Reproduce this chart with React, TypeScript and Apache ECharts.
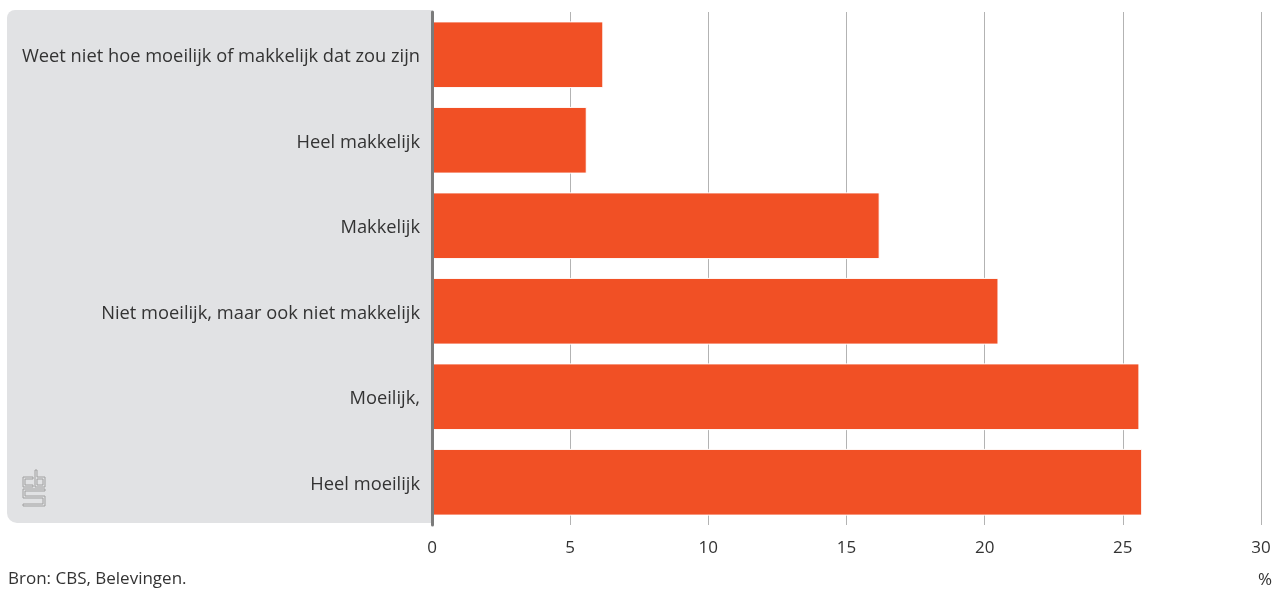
import React, { useEffect, useRef } from "react";
import * as echarts from "echarts";

const categories = [
  "Weet niet hoe moeilijk of makkelijk dat zou zijn",
  "Heel makkelijk",
  "Makkelijk",
  "Niet moeilijk, maar ook niet makkelijk",
  "Moeilijk,",
  "Heel moeilijk",
];
const values = [6.2, 5.6, 16.2, 20.5, 25.6, 25.7];
const xTicks = [0, 5, 10, 15, 20, 25, 30];
const sourceText = "Bron: CBS, Belevingen.";
const unitText = "%";

const logoPath =
  "M10,7 H0 V17 H10 V15 H2 V9 H10 Z " +
  "M12,0 H14 V7 H22 V17 H12 Z M14,9 H20 V15 H14 Z " +
  "M0,19 H22 V21 H2 V26 H22 V36 H0 V34 H20 V28 H0 Z";

let registered = false;

export default function App() {
  const ref = useRef<HTMLDivElement>(null);
  useEffect(() => {
    if (!registered) {
      echarts.graphic.registerShape("logo", echarts.graphic.extendPath(logoPath, {}));
      registered = true;
    }
    const chart = echarts.init(ref.current!, null, { renderer: "svg" });
    const font = "'Open Sans', 'Noto Sans', sans-serif";
    chart.setOption({
      animation: false,
      textStyle: { fontFamily: font },
      grid: { left: 432, right: 21, top: 12, bottom: 64, containLabel: false },
      xAxis: {
        type: "value",
        min: xTicks[0],
        max: xTicks[xTicks.length - 1],
        interval: 5,
        axisLine: { show: false },
        axisTick: { show: false },
        axisLabel: { color: "#333", fontSize: 17, margin: 13, fontFamily: font },
        splitLine: { show: true, lineStyle: { color: "#b3b3b3", width: 1 } },
      },
      yAxis: {
        type: "category",
        data: categories,
        inverse: true,
        axisLine: { show: true, lineStyle: { color: "#7b7b7b", width: 3 } },
        axisTick: { show: false },
        axisLabel: { color: "#333", fontSize: 18.3, margin: 12, fontFamily: font },
        z: 5,
      },
      graphic: [
        {
          type: "rect",
          z: -10,
          silent: true,
          shape: { x: 7, y: 10, width: 425, height: 513, r: [8, 0, 0, 10] },
          style: { fill: "#e1e2e4" },
        },
        {
          type: "logo",
          x: 23,
          y: 470,
          scaleX: 1,
          scaleY: 1,
          z: 10,
          style: { fill: "none", stroke: "#a0a0a0", lineWidth: 1 },
        },
        {
          type: "text",
          left: 8,
          top: 569,
          style: { text: sourceText, fill: "#333", fontSize: 17, fontFamily: font },
        },
        {
          type: "text",
          right: 10,
          top: 570,
          style: { text: unitText, fill: "#333", fontSize: 17, fontFamily: font },
        },
      ],
      series: [
        {
          type: "bar",
          data: values,
          barCategoryGap: "22%",
          itemStyle: { color: "#f15025", borderColor: "#ffffff", borderWidth: 1 },
          z: 3,
        },
      ],
    });
    return () => chart.dispose();
  }, []);
  return (
    <div
      ref={ref}
      style={{ position: "fixed", left: 0, top: 0, width: 1282, height: 589 }}
    />
  );
}
